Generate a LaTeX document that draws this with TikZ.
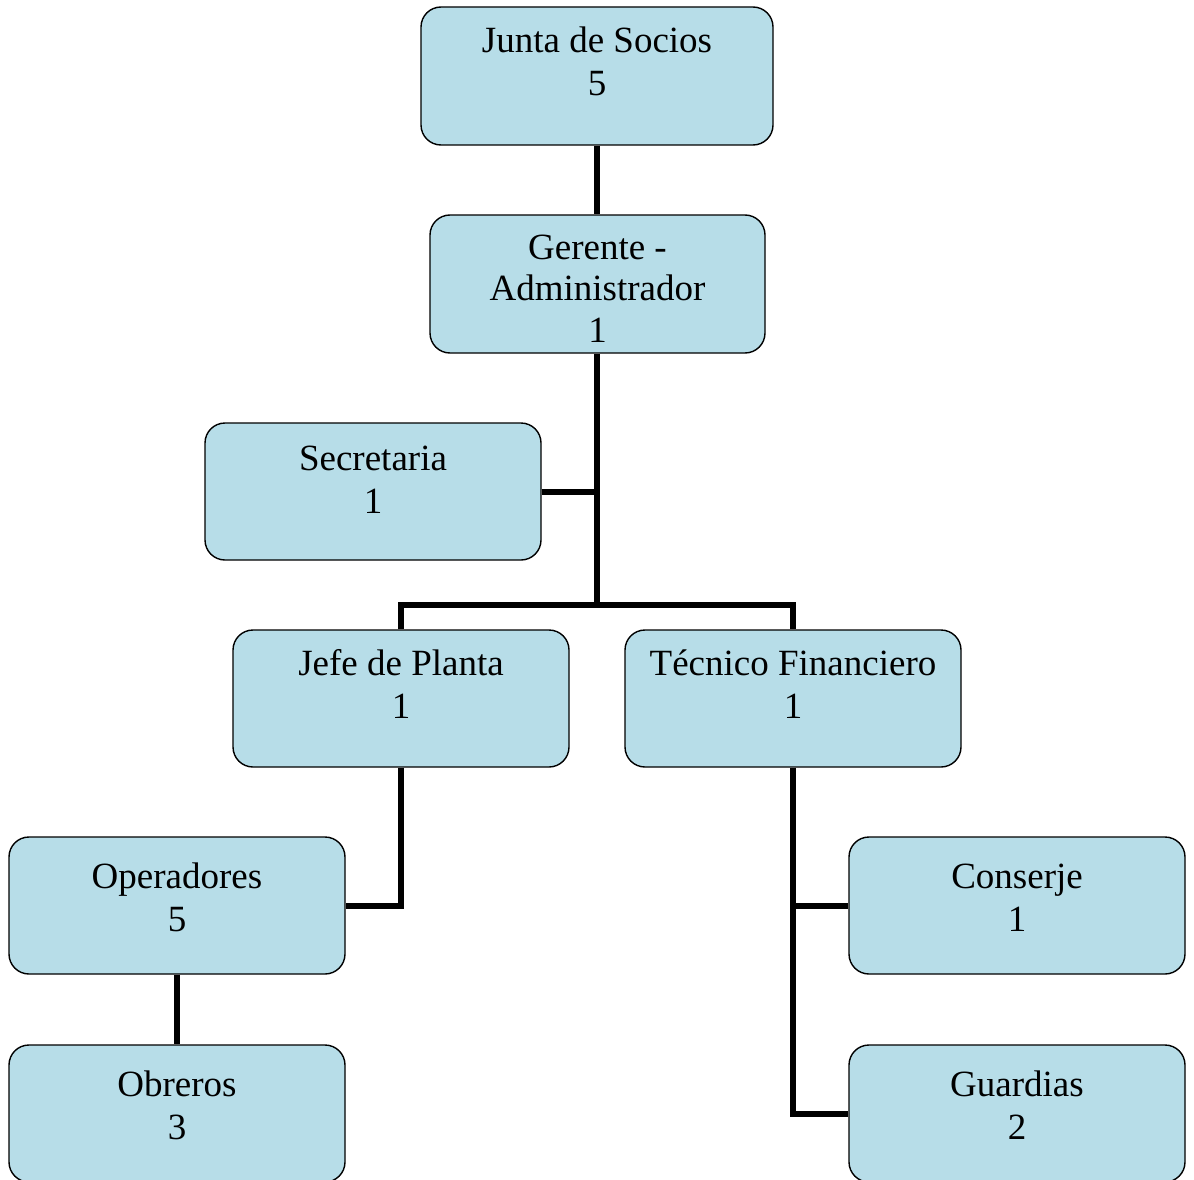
\documentclass[tikz,border=0pt]{standalone}
\usepackage{fontspec}
\setmainfont{Liberation Serif}
\usetikzlibrary{backgrounds}
\definecolor{boxfill}{HTML}{B7DDE8}
\begin{document}
\begin{tikzpicture}[x=1pt,y=-1pt,
  orgbox/.style={draw=black,line width=1.4pt,fill=boxfill,rounded corners=20pt,
    minimum width=336pt,minimum height=137pt,inner sep=0pt},
  orgtext/.style={anchor=base,align=center,inner sep=0pt,
    font=\fontsize{37}{43}\selectfont},
  link/.style={line width=6pt,draw=black,line join=miter}]
\useasboundingbox (0,0) rectangle (1194,1180);

% boxes
\node[orgbox,minimum width=352pt,minimum height=138pt] (junta) at (597,76) {};
\node[orgbox,minimum width=335pt,minimum height=138pt] (gerente) at (597.5,284) {};
\node[orgbox] (secretaria) at (373,491.5) {};
\node[orgbox] (jefe) at (401,698.5) {};
\node[orgbox] (tecnico) at (793,698.5) {};
\node[orgbox] (operadores) at (177,905.5) {};
\node[orgbox] (conserje) at (1017,905.5) {};
\node[orgbox] (obreros) at (177,1113.5) {};
\node[orgbox] (guardias) at (1017,1113.5) {};

% labels, placed by the baseline of their last line
\node[orgtext] (junta-t) at ([yshift=-89.5pt]junta.north) {Junta de Socios\\5};
\node[orgtext,font=\fontsize{37}{41.5}\selectfont] (gerente-t)
  at ([yshift=-128pt]gerente.north) {Gerente -\\Administrador\\1};
\node[orgtext] (secretaria-t) at ([yshift=-91pt]secretaria.north) {Secretaria\\1};
\node[orgtext] (jefe-t) at ([yshift=-89pt]jefe.north) {Jefe de Planta\\1};
\node[orgtext] (tecnico-t) at ([yshift=-89pt]tecnico.north) {Técnico Financiero\\1};
\node[orgtext] (operadores-t) at ([yshift=-95pt]operadores.north) {Operadores\\5};
\node[orgtext] (conserje-t) at ([yshift=-95pt]conserje.north) {Conserje\\1};
\node[orgtext] (obreros-t) at ([yshift=-95pt]obreros.north) {Obreros\\3};
\node[orgtext] (guardias-t) at ([yshift=-95pt]guardias.north) {Guardias\\2};

% connectors, kept behind the boxes
\coordinate (bus) at (597,605);
\begin{pgfonlayer}{background}
\draw[link] (junta.south) -- (gerente.north -| junta.south);
\draw[link] (gerente.south -| bus) -- (bus);
\draw[link] (jefe.north) |- (bus) -| (tecnico.north);
\draw[link] (secretaria.east) -- (secretaria.east -| bus);
\draw[link] (jefe.south) |- (operadores.east);
\draw[link] (operadores.south) -- (obreros.north);
\draw[link] (tecnico.south) |- (conserje.west);
\draw[link] (tecnico.south) |- (guardias.west);
\end{pgfonlayer}
\end{tikzpicture}
\end{document}
